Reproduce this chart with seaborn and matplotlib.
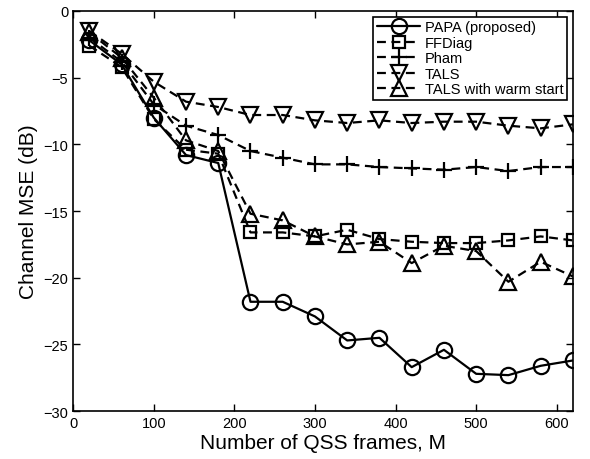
import matplotlib
matplotlib.use("Agg")
import matplotlib.pyplot as plt
import seaborn as sns
import pandas as pd

frames = [20, 60, 100, 140, 180, 220, 260, 300, 340, 380, 420, 460, 500, 540, 580, 620]
papa = [-2.2, -4.0, -8.0, -10.8, -11.4, -21.8, -21.8, -22.9, -24.7, -24.5, -26.7, -25.4, -27.2, -27.3, -26.6, -26.2]
ffdiag = [-2.6, -4.2, -8.1, -10.4, -10.7, -16.6, -16.6, -16.9, -16.4, -17.1, -17.3, -17.4, -17.4, -17.2, -16.9, -17.2]
pham = [-2.0, -3.8, -7.0, -8.6, -9.3, -10.5, -11.0, -11.5, -11.5, -11.7, -11.8, -11.9, -11.7, -12.0, -11.7, -11.7]
tals = [-1.5, -3.2, -5.3, -6.8, -7.2, -7.8, -7.8, -8.2, -8.4, -8.2, -8.4, -8.3, -8.3, -8.6, -8.8, -8.5]
tals_warm = [-1.6, -3.5, -6.5, -9.7, -10.5, -15.2, -15.7, -16.9, -17.5, -17.3, -18.9, -17.6, -18.0, -20.3, -18.8, -19.9]

labels = ["PAPA (proposed)", "FFDiag", "Pham", "TALS", "TALS with warm start"]
series = [papa, ffdiag, pham, tals, tals_warm]
markers = ["o", "s", "+", "v", "^"]
styles = ["-", "--", "--", "--", "--"]
msizes = [11, 8, 11, 11, 12]

xticks = [0, 100, 200, 300, 400, 500, 600]
yticks = [-30, -25, -20, -15, -10, -5, 0]

sns.set_theme(style="ticks")
plt.rcParams["font.family"] = ["Liberation Sans", "DejaVu Sans"]
plt.rcParams["text.color"] = "black"
plt.rcParams["axes.labelcolor"] = "black"
plt.rcParams["xtick.color"] = "black"
plt.rcParams["ytick.color"] = "black"

fig = plt.figure(figsize=(5.9, 4.6), dpi=100)
ax = fig.add_axes([0.124, 0.104, 0.847, 0.870])

for lab, vals, m, ls, ms in zip(labels, series, markers, styles, msizes):
    df = pd.DataFrame({"M": frames, "MSE": vals})
    sns.lineplot(data=df, x="M", y="MSE", ax=ax, color="black", linewidth=1.6,
                 linestyle=ls, marker=m, markersize=ms, markerfacecolor="none",
                 markeredgecolor="black", markeredgewidth=1.6, label=lab)
    ln = ax.lines[-1]
    if ls == "--":
        ln.set_dashes((4, 2.5))

ax.set_xlim(0, 620)
ax.set_ylim(-30, 0)
ax.set_xticks(xticks)
ax.set_yticks(yticks)
ax.set_yticklabels(["\u221230", "\u221225", "\u221220", "\u221215", "\u221210", "\u22125", "0"])
ax.tick_params(direction="in", top=True, right=True, length=5, width=1, labelsize=10.5,
               colors="black", labelcolor="black")
for s in ax.spines.values():
    s.set_linewidth(1.2)
    s.set_color("black")
ax.set_xlabel("Number of QSS frames, M", fontsize=15, labelpad=2, color="black")
ax.set_ylabel("Channel MSE (dB)", fontsize=15, labelpad=4, color="black")

leg = ax.legend(loc="upper right", fontsize=10.5, frameon=True, fancybox=False,
                edgecolor="black", framealpha=1, borderpad=0.25, labelspacing=0.1,
                handlelength=3.0, handletextpad=0.3, borderaxespad=0.4)
leg.get_frame().set_linewidth(1.2)
for t in leg.get_texts():
    t.set_color("black")

fig.savefig("out.png", dpi=100)
